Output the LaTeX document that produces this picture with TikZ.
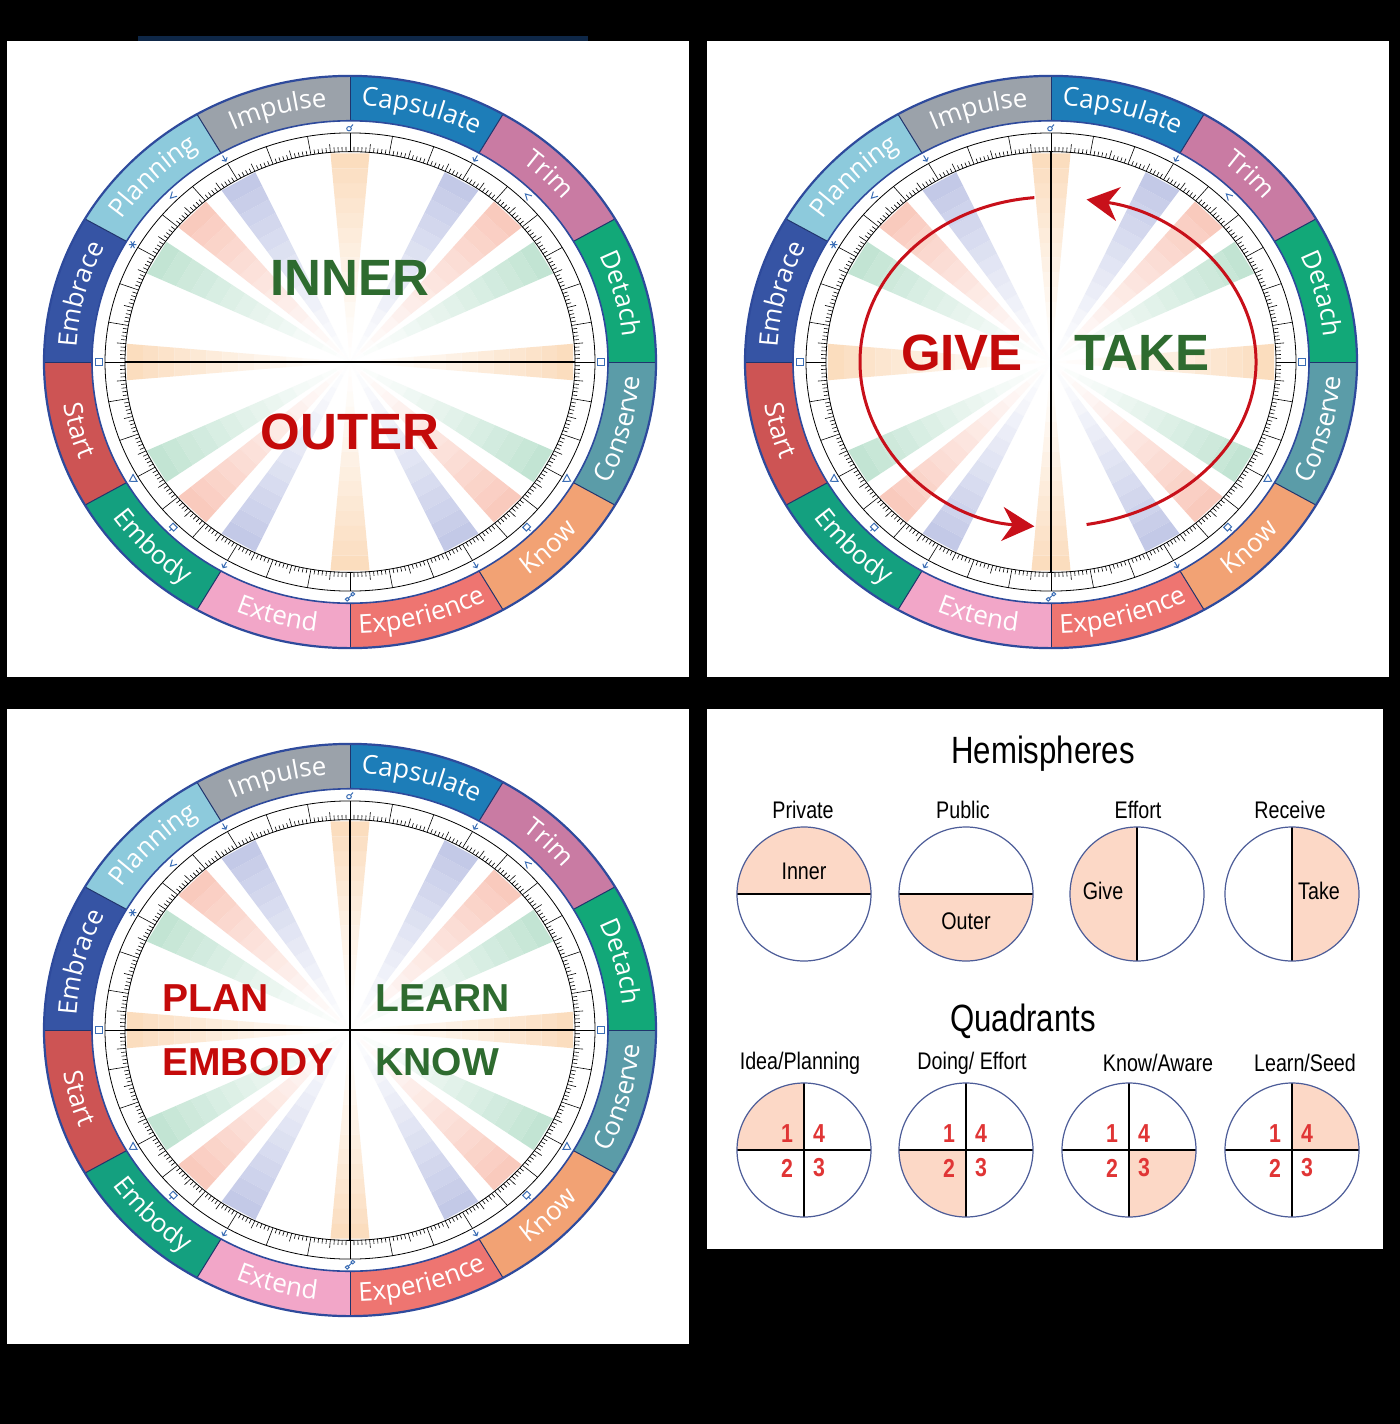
\documentclass[tikz,border=0pt]{standalone}
\usepackage{fontspec}
\usepackage{tikz}
\usetikzlibrary{arrows.meta,decorations.text}
\setmainfont{Liberation Sans}
\newfontfamily\bandfam{Open Sans}
\newfontfamily\legfam[FakeStretch=0.82]{Liberation Sans}
\newcommand{\bandfont}{\bandfam\fontsize{13pt}{13pt}\selectfont}

\definecolor{navy}{HTML}{0E2747}
\definecolor{edgeblue}{HTML}{2E4A9C}
\definecolor{markblue}{HTML}{3A6DB5}
\definecolor{capsulatec}{HTML}{1D7DB8}
\definecolor{trimc}{HTML}{C97BA3}
\definecolor{detachc}{HTML}{12A878}
\definecolor{conservec}{HTML}{5B9CA8}
\definecolor{knowc}{HTML}{F2A274}
\definecolor{experiencec}{HTML}{EE7571}
\definecolor{extendc}{HTML}{F2A6C8}
\definecolor{embodyc}{HTML}{14A07F}
\definecolor{startc}{HTML}{CD5454}
\definecolor{embracec}{HTML}{3654A4}
\definecolor{planningc}{HTML}{8DCADC}
\definecolor{impulsec}{HTML}{9BA2AA}
\definecolor{peachray}{HTML}{FBDDBE}
\definecolor{blueray}{HTML}{C3C9E7}
\definecolor{salmonray}{HTML}{F9CABD}
\definecolor{greenray}{HTML}{C2E4D3}
\definecolor{greenword}{HTML}{2E6B2F}
\definecolor{redword}{HTML}{C40A0A}
\definecolor{arcred}{HTML}{C8101A}
\definecolor{peachfill}{HTML}{FCD8C6}
\definecolor{ringblue}{HTML}{4C5C98}
\definecolor{numred}{HTML}{E03535}

\tikzstyle{panel}=[fill=white]
\tikzstyle{bandedge}=[draw=edgeblue,line width=1.1pt]
\tikzstyle{bandinner}=[draw=edgeblue,line width=0.8pt]
\tikzstyle{sepline}=[draw=edgeblue!70!black,line width=0.5pt]
\tikzstyle{scalering}=[draw=black,line width=0.4pt]
\tikzstyle{scaletick}=[draw=black,line width=0.3pt]
\tikzstyle{aspectmark}=[draw=markblue,line width=0.5pt]
\tikzstyle{axisline}=[draw=black,line width=0.6pt]
\tikzstyle{bigword}=[font=\fontsize{25.5pt}{26pt}\selectfont\bfseries,inner sep=0pt]
\tikzstyle{quadword}=[font=\fontsize{19.5pt}{20pt}\selectfont\bfseries,inner sep=0pt,anchor=west]
\tikzstyle{turnarrow}=[draw=arcred,line width=1.5pt,-{Stealth[length=16pt,width=17pt]}]
\tikzstyle{halffill}=[fill=peachfill]
\tikzstyle{divline}=[draw=black,line width=0.7pt]
\tikzstyle{legring}=[draw=ringblue,line width=0.6pt]
\tikzstyle{headline}=[font=\legfam\fontsize{19pt}{19pt}\selectfont,inner sep=0pt]
\tikzstyle{legtitle}=[font=\legfam\fontsize{12pt}{12pt}\selectfont,inner sep=0pt]
\tikzstyle{legtext}=[font=\legfam\fontsize{12pt}{12pt}\selectfont,inner sep=0pt]
\tikzstyle{legnum}=[font=\legfam\bfseries\fontsize{13pt}{13pt}\selectfont,text=numred,inner sep=0pt]

\tikzset{
  conj/.pic={\draw[aspectmark] (-1,-1.5) circle[radius=2.3] (0.7,0.2) -- (3,3);},
  opp/.pic={\draw[aspectmark] (-2.8,-2.8) circle[radius=1.9] (2.8,2.8) circle[radius=1.9] (-1.5,-1.5) -- (1.5,1.5);},
  sqr/.pic={\draw[aspectmark] (-3.5,-3.5) rectangle (3.5,3.5);},
  trine/.pic={\draw[aspectmark] (-4,-3) -- (4,-3) -- (0,4) -- cycle;},
  sextile/.pic={\draw[aspectmark] (-4,0) -- (4,0) (-2,-3.5) -- (2,3.5) (-2,3.5) -- (2,-3.5);},
  semisext/.pic={\draw[aspectmark] (0,4) -- (0,-3) (-3,0) -- (0,-3) -- (3,0);},
  semisqr/.pic={\draw[aspectmark] (3,3.5) -- (-3,0) -- (3,-3.5);},
  quinc/.pic={\draw[aspectmark] (0,-4) -- (0,3) (-3,0) -- (0,3) -- (3,0);},
  sesqui/.pic={\draw[aspectmark] (-3,-4) rectangle (3,1.5) (0,1.5) -- (0,4.5);}
}

\begin{document}
\begin{tikzpicture}[x=0.5pt,y=-0.5pt]
  \useasboundingbox (0,0) rectangle (1400,1424);
  \fill[black] (0,0) rectangle (1400,1424);
  \fill[panel] (7,41) rectangle (689,677);
  \fill[panel] (707,41) rectangle (1389,677);
  \fill[panel] (7,709) rectangle (689,1344);
  \fill[panel] (707,709) rectangle (1383,1249);
  \fill[navy] (138,36) rectangle (588,41);

  % the three wheels
  \foreach \cx/\cy in {350/362,1051/362,350/1030}{
    \begin{scope}[shift={(\cx,\cy)},x=0.5pt,y=0.4675pt]
      \foreach \a/\raycol in {90/peachray,0/peachray,180/peachray,270/peachray,60/blueray,120/blueray,240/blueray,300/blueray,45/salmonray,135/salmonray,225/salmonray,315/salmonray,30/greenray,150/greenray,210/greenray,330/greenray}{
        \foreach \i in {1,...,14}{
          \pgfmathtruncatemacro\pc{100*(\i/14)^1.3}
          \colorlet{raymix}{\raycol!\pc!white}
          \fill[raymix] ({\a-5}:{(\i-1)*16}) -- ({\a+5}:{(\i-1)*16}) -- ({\a+5}:{\i*16}) -- ({\a-5}:{\i*16}) -- cycle;
        }
      }
      \foreach \a/\c in {60/capsulatec,30/trimc,0/detachc,-30/conservec,-60/knowc,-90/experiencec,-120/extendc,-150/embodyc,-180/startc,150/embracec,120/planningc,90/impulsec}
        \fill[fill=\c] (\a:258) -- (\a:306) arc[start angle=\a,end angle=\a+30,radius=306] -- ({\a+30}:258) arc[start angle=\a+30,end angle=\a,radius=258] -- cycle;
      \foreach \a in {0,30,...,330}
        \draw[sepline] (\a:258) -- (\a:306);
      \draw[bandedge] (0,0) circle[radius=306];
      \draw[bandinner] (0,0) circle[radius=258];
      \foreach \a/\name in {150/Embrace,120/Planning,90/Impulse,60/Capsulate,30/Trim,0/Detach}
        \path[decorate,decoration={text along path,text align=center,text color=white,text/.expanded={|\noexpand\bandfont|\name}}] ({\a+30}:274) arc[start angle=\a+30,end angle=\a,radius=274];
      \foreach \a/\name in {-180/Start,-150/Embody,-120/Extend,-90/Experience,-60/Know,-30/Conserve}
        \path[decorate,decoration={text along path,text align=center,text color=white,text/.expanded={|\noexpand\bandfont|\name}}] (\a:290) arc[start angle=\a,end angle=\a+30,radius=290];
      \draw[scalering] (0,0) circle[radius=245];
      \draw[scalering] (0,0) circle[radius=225];
      \foreach \t in {0,...,359}{
        \pgfmathsetmacro\rr{mod(\t,10)==0 ? 245 : (mod(\t,5)==0 ? 234 : 230)}
        \draw[scaletick] (\t:225) -- (\t:\rr);
      }
      \foreach \a/\p in {90/conj,270/opp,0/sqr,180/sqr,210/trine,330/trine,150/sextile,60/semisext,120/semisext,45/semisqr,135/semisqr,225/sesqui,315/sesqui,240/quinc,300/quinc}
        \pic[rotate=\a-90] at (\a:251) {\p};
    \end{scope}
  }

  % inner / outer
  \draw[axisline] (125,362) -- (575,362);
  \node[bigword,text=greenword] (inner) at (350,278) {INNER};
  \node[bigword,text=redword] (outer) at (350,432) {OUTER};

  % give / take
  \draw[axisline] (1051,152) -- (1051,572);
  \node[bigword,text=redword] (give) at (962,353) {GIVE};
  \node[bigword,text=greenword] (take) at (1142,353) {TAKE};
  \begin{scope}[shift={(1051,362)},x=0.5pt,y=0.5pt]
    \coordinate (giveFrom) at (95:191 and 165);
    \coordinate (takeFrom) at (-80:205 and 165);
    \draw[turnarrow] (giveFrom) arc[start angle=95,end angle=265,x radius=191,y radius=165];
    \draw[turnarrow] (takeFrom) arc[start angle=-80,end angle=80,x radius=205,y radius=165];
  \end{scope}

  % quadrants
  \draw[axisline] (125,1030) -- (575,1030);
  \draw[axisline] (350,820) -- (350,1240);
  \node[quadword,text=redword] (plan) at (162,998) {PLAN};
  \node[quadword,text=greenword] (learn) at (375,998) {LEARN};
  \node[quadword,text=redword] (embody) at (162,1062) {EMBODY};
  \node[quadword,text=greenword] (know) at (375,1062) {KNOW};

  % legend
  \node[headline] (hemi) at (1043,754) {Hemispheres};
  \foreach \tx/\name in {803/Private,963/Public,1138/Effort,1290/Receive}
    \node[legtitle] (t-\name) at (\tx,810) {\name};
  \foreach \cx/\a/\txt/\tx/\ty in {804/0/Inner/0/23,966/180/Outer/0/-27,1137/90/Give/-34/3,1292/-90/Take/27/3}{
    \begin{scope}[shift={(\cx,894)},x=0.5pt,y=0.5pt]
      \fill[halffill] (\a:67) arc[start angle=\a,end angle=\a+180,radius=67] -- cycle;
      \draw[divline] (\a:67) -- ({\a+180}:67);
      \draw[legring] (0,0) circle[radius=67];
      \node[legtext] (h-\txt) at (\tx,\ty) {\txt};
    \end{scope}
  }
  \node[headline] (quad) at (1023,1021) {Quadrants};
  \foreach \tx/\name [count=\k] in {800/{Idea/Planning},972/{Doing/ Effort},1158/{Know/Aware},1305/{Learn/Seed}}
    \node[legtitle] (qt\k) at (\tx,1063) {\name};
  \foreach \cx/\a [count=\k] in {804/90,966/180,1129/270,1292/0}{
    \begin{scope}[shift={(\cx,1150)},x=0.5pt,y=0.5pt]
      \fill[halffill] (0,0) -- (\a:67) arc[start angle=\a,end angle=\a+90,radius=67] -- cycle;
      \draw[divline] (-67,0) -- (67,0) (0,-67) -- (0,67);
      \draw[legring] (0,0) circle[radius=67];
      \foreach \n/\nx/\ny in {1/-17/16,4/15/16,2/-17/-18,3/15/-18}
        \node[legnum] (q\k-\n) at (\nx,\ny) {\n};
    \end{scope}
  }
\end{tikzpicture}
\end{document}
